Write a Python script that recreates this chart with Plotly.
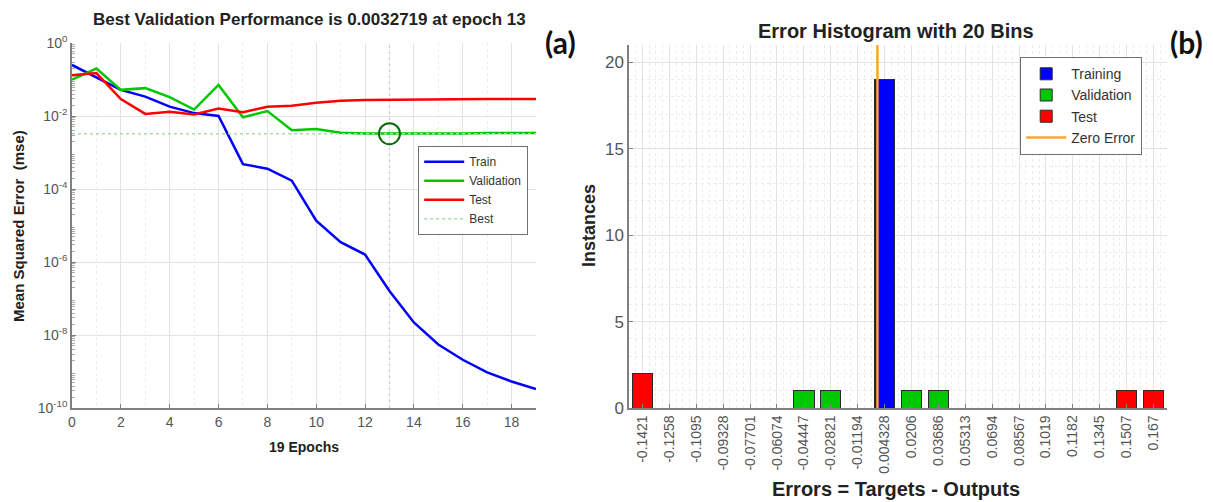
import plotly.graph_objects as go

# ---------------- data: (a) performance curves ----------------
epochs = list(range(20))
train_mse = [0.25, 0.115, 0.052, 0.034, 0.018, 0.012, 0.010, 4.8e-4, 3.6e-4, 1.7e-4,
             1.35e-5, 3.5e-6, 1.6e-6, 1.6e-7, 2.2e-8, 5.5e-9, 2.1e-9, 9.5e-10, 5.3e-10, 3.3e-10]
val_mse = [0.10, 0.20, 0.052, 0.058, 0.033, 0.015, 0.071, 0.0092, 0.0137, 0.0041,
           0.0044, 0.0035, 0.0033, 0.0032719, 0.0033, 0.0033, 0.0033, 0.0034, 0.0034, 0.0034]
test_mse = [0.13, 0.15, 0.029, 0.0114, 0.013, 0.011, 0.016, 0.0126, 0.018, 0.019,
            0.023, 0.026, 0.0275, 0.028, 0.0285, 0.029, 0.029, 0.029, 0.029, 0.029]
best_epoch = 13
best_perf = 0.0032719
ytick_vals = [1e0, 1e-2, 1e-4, 1e-6, 1e-8, 1e-10]
ytick_text = ["10<sup>0</sup>", "10<sup>-2</sup>", "10<sup>-4</sup>", "10<sup>-6</sup>",
              "10<sup>-8</sup>", "10<sup>-10</sup>"]

# ---------------- data: (b) error histogram ----------------
bin_labels = ["-0.1421", "-0.1258", "-0.1095", "-0.09328", "-0.07701", "-0.06074", "-0.04447",
              "-0.02821", "-0.01194", "0.004328", "0.0206", "0.03686", "0.05313", "0.0694",
              "0.08567", "0.1019", "0.1182", "0.1345", "0.1507", "0.167"]
bin_centers = [-0.1421, -0.1258, -0.1095, -0.09328, -0.07701, -0.06074, -0.04447,
               -0.02821, -0.01194, 0.004328, 0.0206, 0.03686, 0.05313, 0.0694,
               0.08567, 0.1019, 0.1182, 0.1345, 0.1507, 0.167]
train_counts = [0, 0, 0, 0, 0, 0, 0, 0, 0, 19, 0, 0, 0, 0, 0, 0, 0, 0, 0, 0]
val_counts = [0, 0, 0, 0, 0, 0, 1, 1, 0, 0, 1, 1, 0, 0, 0, 0, 0, 0, 0, 0]
test_counts = [2, 0, 0, 0, 0, 0, 0, 0, 0, 0, 0, 0, 0, 0, 0, 0, 0, 0, 1, 1]

W, H = 1213, 502
FONT = "Liberation Sans, Arial, Helvetica, sans-serif"
TICKC = "#555555"
AXC = "#808080"
GRIDC = "#e3e3e3"
MINORC = "#ececec"
TXT = "#222222"

BLUE = "#0000ff"
GREEN = "#00c800"
RED = "#ff0000"
ORANGE = "#ffa52e"


def px_x(p):
    return p / W


def px_y(p):
    return (H - p) / H


fig = go.Figure()

# ----- (a) -----
fig.add_trace(go.Scatter(x=epochs, y=train_mse, mode="lines", name="Train",
                         line=dict(color=BLUE, width=2.5), xaxis="x", yaxis="y", legend="legend"))
fig.add_trace(go.Scatter(x=epochs, y=val_mse, mode="lines", name="Validation",
                         line=dict(color=GREEN, width=2.5), xaxis="x", yaxis="y", legend="legend"))
fig.add_trace(go.Scatter(x=epochs, y=test_mse, mode="lines", name="Test",
                         line=dict(color=RED, width=2.5), xaxis="x", yaxis="y", legend="legend"))
fig.add_trace(go.Scatter(x=[epochs[0], epochs[-1]], y=[best_perf, best_perf], mode="lines", name="Best",
                         line=dict(color="#a8dca8", width=1.5, dash="dot"),
                         xaxis="x", yaxis="y", legend="legend"))
fig.add_trace(go.Scatter(x=[best_epoch], y=[best_perf], mode="markers", showlegend=False,
                         marker=dict(symbol="circle-open", size=21, color="#0b6b0b",
                                     line=dict(width=2, color="#0b6b0b")),
                         xaxis="x", yaxis="y"))
fig.add_shape(type="line", xref="x", yref="y domain", x0=best_epoch, x1=best_epoch, y0=0, y1=1,
              line=dict(color="#c8c8c8", width=1.2, dash="dot"), layer="below")

# ----- (b) -----
bw = (bin_centers[-1] - bin_centers[0]) / (len(bin_centers) - 1)


def nz(v):
    return [c if c else None for c in v]


for name, counts, col in [("Training", train_counts, BLUE),
                          ("Validation", val_counts, GREEN),
                          ("Test", test_counts, RED)]:
    fig.add_trace(go.Bar(x=bin_centers, y=nz(counts), name=name, width=bw * 0.76,
                         marker=dict(color=col, line=dict(color="#2a2a2a", width=1)),
                         xaxis="x2", yaxis="y2", legend="legend2"))

fig.add_shape(type="line", xref="x2", yref="y2 domain", x0=0, x1=0, y0=0, y1=1,
              line=dict(color=ORANGE, width=2.5), layer="above",
              showlegend=True, name="Zero Error", legend="legend2")

left_dom_x = [px_x(72), px_x(536)]
right_dom_x = [px_x(629), px_x(1167)]
dom_y_a = [px_y(408), px_y(43)]
dom_y_b = [px_y(408), px_y(45)]


def ann(text, x, y, size, angle=0, family=FONT, color=TXT):
    return dict(text=text, x=px_x(x), y=px_y(y), xref="paper", yref="paper", showarrow=False,
                xanchor="center", yanchor="middle", textangle=angle,
                font=dict(family=family, size=size, color=color))


fig.update_layout(
    width=W, height=H, autosize=False,
    margin=dict(l=0, r=0, t=0, b=0, pad=0, autoexpand=False),
    paper_bgcolor="white", plot_bgcolor="white",
    font=dict(family=FONT, color=TXT),
    barmode="stack",
    xaxis=dict(domain=left_dom_x, range=[0, 19], dtick=2, tick0=0, anchor="y", automargin=False,
               showline=True, linecolor=AXC, linewidth=1.5, mirror=False,
               ticks="inside", ticklen=4, tickcolor=AXC,
               showgrid=True, gridcolor=GRIDC, gridwidth=1, zeroline=False,
               minor=dict(dtick=1, showgrid=True, gridcolor=MINORC, griddash="dot"),
               tickfont=dict(family=FONT, size=14, color=TICKC)),
    yaxis=dict(domain=dom_y_a, type="log", range=[-10, 0], anchor="x", automargin=False,
               tickmode="array", tickvals=ytick_vals, ticktext=ytick_text,
               showline=True, linecolor=AXC, linewidth=1.5,
               ticks="inside", ticklen=4, tickcolor=AXC,
               showgrid=True, gridcolor=GRIDC, zeroline=False,
               minor=dict(tickmode="array",
                          tickvals=[k * 10.0 ** e for e in range(-10, 0) for k in range(2, 10)],
                          ticks="inside", ticklen=3, tickcolor="#aaaaaa", showgrid=False),
               tickfont=dict(family=FONT, size=14, color=TICKC)),
    xaxis2=dict(domain=right_dom_x, range=[bin_centers[0] - bw / 2, bin_centers[-1] + bw / 2],
                anchor="y2", automargin=False, tickmode="array", tickvals=bin_centers,
                ticktext=bin_labels, tickangle=-90, showline=True, linecolor=AXC, linewidth=1.5,
                ticks="inside", ticklen=4, tickcolor=AXC,
                showgrid=True, gridcolor=GRIDC, zeroline=False,
                minor=dict(tickmode="linear", tick0=bin_centers[0] - bw / 2, dtick=bw / 4,
                           showgrid=True, gridcolor=MINORC, griddash="dot"),
                tickfont=dict(family=FONT, size=14, color=TICKC)),
    yaxis2=dict(domain=dom_y_b, range=[0, 21], dtick=5, anchor="x2", automargin=False,
                showline=True, linecolor=AXC, linewidth=1.5,
                ticks="inside", ticklen=4, tickcolor=AXC,
                showgrid=True, gridcolor=GRIDC, zeroline=False,
                minor=dict(dtick=1, showgrid=True, gridcolor=MINORC, griddash="dot"),
                tickfont=dict(family=FONT, size=17, color=TICKC)),
    legend=dict(x=px_x(418), y=px_y(146), xanchor="left", yanchor="top",
                bgcolor="white", bordercolor="#707070", borderwidth=1.2,
                font=dict(family=FONT, size=12, color="#333333"),
                tracegroupgap=0, itemwidth=40, traceorder="normal"),
    legend2=dict(x=px_x(1020), y=px_y(57), xanchor="left", yanchor="top",
                 bgcolor="white", bordercolor="#707070", borderwidth=1.2,
                 font=dict(family=FONT, size=14, color="#333333"),
                 tracegroupgap=0, itemwidth=40, traceorder="normal"),
    annotations=[
        ann("<b>Best Validation Performance is 0.0032719 at epoch 13</b>", 309, 20, 17),
        ann("<b>Error Histogram with 20 Bins</b>", 896, 31, 20),
        ann("<b>19 Epochs</b>", 304, 447, 14),
        ann("<b>Mean Squared Error  (mse)</b>", 18, 226, 15, angle=-90),
        ann("<b>Errors = Targets - Outputs</b>", 896, 489, 20),
        ann("<b>Instances</b>", 589, 226, 18, angle=-90),
        ann("<b>(a)</b>", 560, 42, 30, family="Lato, Open Sans, sans-serif", color="#111111"),
        ann("<b>(b)</b>", 1186, 42, 30, family="Lato, Open Sans, sans-serif", color="#111111"),
    ],
)

fig.write_html("out.html", config={"displayModeBar": False},
               post_script="document.body.style.margin='0';document.body.style.overflow='hidden';")
